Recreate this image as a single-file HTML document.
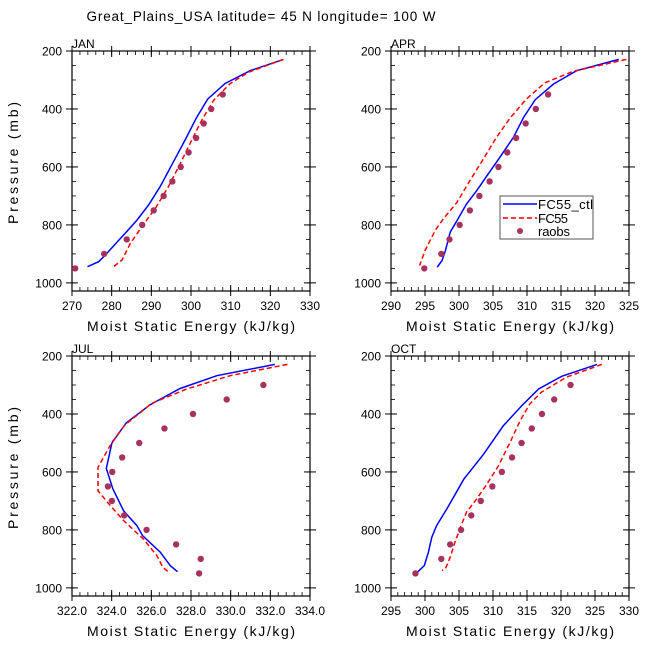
<!DOCTYPE html>
<html><head><meta charset="utf-8">
<style>
html,body{margin:0;padding:0;background:#fff;}
svg text{font-family:"Liberation Sans",sans-serif;fill:#000;}
</style></head>
<body>
<svg id="chart" width="648" height="648" viewBox="0 0 648 648" xmlns="http://www.w3.org/2000/svg">
<rect width="648" height="648" fill="#fff"/>
<text x="261" y="21" font-size="13.5" text-anchor="middle" textLength="349" lengthAdjust="spacing">Great_Plains_USA  latitude= 45 N longitude= 100 W</text>
</svg>
<script>
// ---- data ----
const raobsLevels = [300,350,400,450,500,550,600,650,700,750,800,850,900,950];
const janRaobs = [null,308.0,305.1,303.2,301.3,299.4,297.4,295.3,293.1,290.6,287.7,283.8,278.1,270.8];
const aprRaobs = [null,313.1,311.3,309.8,308.4,307.1,305.8,304.5,303.0,301.6,300.1,298.6,297.4,294.9];
const julRaobs = [331.65,329.8,328.1,326.66,325.39,324.53,324.03,323.81,324.01,324.63,325.76,327.25,328.49,328.41];
const octRaobs = [321.4,319.0,317.2,315.7,314.2,312.8,311.3,309.9,308.2,306.8,305.3,303.7,302.4,298.6];

const janCtlP = [229,268,312,366,432,507,582,668,731,783,823,872,904,927,944];
const janCtlE = [323.3,314.9,308.6,304.2,301.3,298.5,295.6,292.2,289.3,286.4,283.8,280.5,278.4,276.7,273.9];
const janFcP = [229,273,312,370,439,507,588,668,743,806,864,921,946];
const janFcE = [323.3,314.5,309.9,305.7,302.7,300.2,297.3,294.3,291.0,287.6,284.7,282.6,280.3];

const aprCtlP = [229,268,314,368,429,498,567,624,682,728,785,825,889,923,946];
const aprCtlE = [323.5,317.3,313.9,311.2,309.5,308.0,306.0,304.3,302.6,301.1,299.7,298.7,298.0,297.5,296.8];
const aprFcP = [229,270,310,366,432,498,572,647,722,779,819,889,940];
const aprFcE = [324.6,316.8,312.6,309.9,307.5,305.5,303.6,301.6,299.7,297.7,296.5,295.0,294.2];

const julCtlP = [229,268,312,368,431,500,588,659,734,785,820,877,923,944];
const julCtlE = [332.23,329.30,327.45,325.94,324.73,324.01,323.73,324.06,324.60,325.27,325.56,326.45,326.95,327.32];
const julFcP = [229,268,314,363,437,498,584,665,716,768,832,889,929,946];
const julFcE = [332.86,329.97,327.79,326.03,324.68,324.01,323.31,323.31,323.93,324.60,325.61,326.28,326.58,326.87];

const octCtlP = [229,270,314,372,441,539,625,728,785,825,877,923,948];
const octCtlE = [325.3,320.1,316.7,314.2,311.5,308.6,305.7,303.2,301.7,301.0,300.5,299.9,298.8];
const octFcP = [229,273,325,366,423,498,579,642,693,739,791,843,894,934,940];
const octFcE = [326.0,320.8,317.1,315.4,314.0,312.5,310.8,309.1,307.6,306.1,305.2,304.4,303.7,303.0,302.5];

const janXTicks = [270,280,290,300,310,320,330];
const aprXTicks = [290,295,300,305,310,315,320,325];
const julXTicks = [322,324,326,328,330,332,334];
const octXTicks = [295,300,305,310,315,320,325,330];
const yTicks = [200,400,600,800,1000];

// ---- drawing ----
const NS = "http://www.w3.org/2000/svg";
const svg = document.getElementById('chart');
function mk(tag, attrs, parent){ const e=document.createElementNS(NS,tag); for(const k in attrs) e.setAttribute(k,attrs[k]); (parent||svg).appendChild(e); return e; }

function panel(cfg){
  const L=cfg.x, T=cfg.y, W=238, H=240;
  const g = mk('g',{});
  
  
  const xs = v => L + (v-cfg.xmin)/(cfg.xmax-cfg.xmin)*W;
  const ys = p => T + (p-200)/(1028-200)*H;
  for(let v=cfg.xmin; v<=cfg.xmax+1e-9; v+=cfg.xminor){
    const X=xs(v);
    mk('line',{x1:X,y1:T+H,x2:X,y2:T+H-4,stroke:'#000','stroke-width':0.8},g);
    mk('line',{x1:X,y1:T,x2:X,y2:T+4,stroke:'#000','stroke-width':0.8},g);
  }
  for(let p=250;p<=1000;p+=50){
    const Y=ys(p);
    mk('line',{x1:L,y1:Y,x2:L+4,y2:Y,stroke:'#000','stroke-width':0.8},g);
    mk('line',{x1:L+W,y1:Y,x2:L+W-4,y2:Y,stroke:'#000','stroke-width':0.8},g);
  }
  cfg.xticks.forEach(v=>{
    const X=xs(v);
    mk('line',{x1:X,y1:T+H+5,x2:X,y2:T+H-6,stroke:'#000','stroke-width':1},g);
    mk('line',{x1:X,y1:T-5,x2:X,y2:T+6,stroke:'#000','stroke-width':1},g);
    const t=mk('text',{x:X,y:T+H+19,'font-size':12,'text-anchor':'middle'},g);
    t.textContent = cfg.fmt ? v.toFixed(1) : String(v);
    
    
  });
  yTicks.forEach(p=>{
    const Y=ys(p);
    mk('line',{x1:L-6,y1:Y,x2:L+6,y2:Y,stroke:'#000','stroke-width':1},g);
    mk('line',{x1:L+W+6,y1:Y,x2:L+W-6,y2:Y,stroke:'#000','stroke-width':1},g);
    const t=mk('text',{x:L-10,y:Y+4.5,'font-size':12,'text-anchor':'end'},g);
    t.textContent=String(p);
    
    
  });
  mk('rect',{x:L,y:T,width:W,height:H,fill:'none',stroke:'#000','stroke-width':1.2},g);
  const lab=mk('text',{x:L,y:T-3,'font-size':12},g);
  lab.textContent=cfg.label;
  
  
  const xt=mk('text',{x:L+W/2,y:T+H+40,'font-size':14,'text-anchor':'middle',textLength:208,lengthAdjust:'spacing'},g);
  xt.textContent='Moist Static Energy (kJ/kg)';
  
  
  if(cfg.ylab){
    const yt=mk('text',{x:0,y:0,'font-size':14,'text-anchor':'middle',textLength:122,lengthAdjust:'spacing',transform:`translate(${L-54},${T+H/2-8}) rotate(-90)`},g);
    yt.textContent='Pressure (mb)';
    
    
  }
  const path=(E,P)=>E.map((e,i)=>(i?'L':'M')+xs(e).toFixed(1)+','+ys(P[i]).toFixed(1)).join(' ');
  const b=mk('path',{d:path(cfg.ctlE,cfg.ctlP),fill:'none',stroke:'#0000ff','stroke-width':1.5},g);
  
  
  const r=mk('path',{d:path(cfg.fcE,cfg.fcP),fill:'none',stroke:'#ff0000','stroke-width':1.5,'stroke-dasharray':'5,3'},g);
  
  
  cfg.raobs.forEach((v,i)=>{
    if(v===null) return;
    const c=mk('circle',{cx:xs(v),cy:ys(raobsLevels[i]),r:3.2,fill:'#a8325f'},g);
    
    
  });
}

panel({name:'jan',label:'JAN',x:72,y:51,xmin:270,xmax:330,xminor:2,xticks:janXTicks,ylab:true,raobs:janRaobs,ctlE:janCtlE,ctlP:janCtlP,fcE:janFcE,fcP:janFcP});
panel({name:'apr',label:'APR',x:391,y:51,xmin:290,xmax:325,xminor:1,xticks:aprXTicks,raobs:aprRaobs,ctlE:aprCtlE,ctlP:aprCtlP,fcE:aprFcE,fcP:aprFcP});
panel({name:'jul',label:'JUL',x:72,y:356,xmin:322,xmax:334,xminor:0.4,xticks:julXTicks,fmt:true,ylab:true,raobs:julRaobs,ctlE:julCtlE,ctlP:julCtlP,fcE:julFcE,fcP:julFcP});
panel({name:'oct',label:'OCT',x:391,y:356,xmin:295,xmax:330,xminor:1,xticks:octXTicks,raobs:octRaobs,ctlE:octCtlE,ctlP:octCtlP,fcE:octFcE,fcP:octFcP});

const lg=mk('g',{});


mk('rect',{x:500,y:196,width:93,height:43,fill:'#fff',stroke:'#555','stroke-width':1},lg);
mk('line',{x1:503,y1:204,x2:537,y2:204,stroke:'#0000ff','stroke-width':1.5},lg);
mk('line',{x1:503,y1:218,x2:537,y2:218,stroke:'#ff0000','stroke-width':1.5,'stroke-dasharray':'5,3'},lg);
mk('circle',{cx:520,cy:231,r:3,fill:'#a8325f'},lg);
[['FC55_ctl',204,55],['FC55',218,30],['raobs',231,32]].forEach(([s,y,w])=>{
  const t=mk('text',{x:538,y:y+5,'font-size':13,textLength:w,lengthAdjust:'spacing'},lg);
  t.textContent=s;
  
  
});
</script>
</body></html>
